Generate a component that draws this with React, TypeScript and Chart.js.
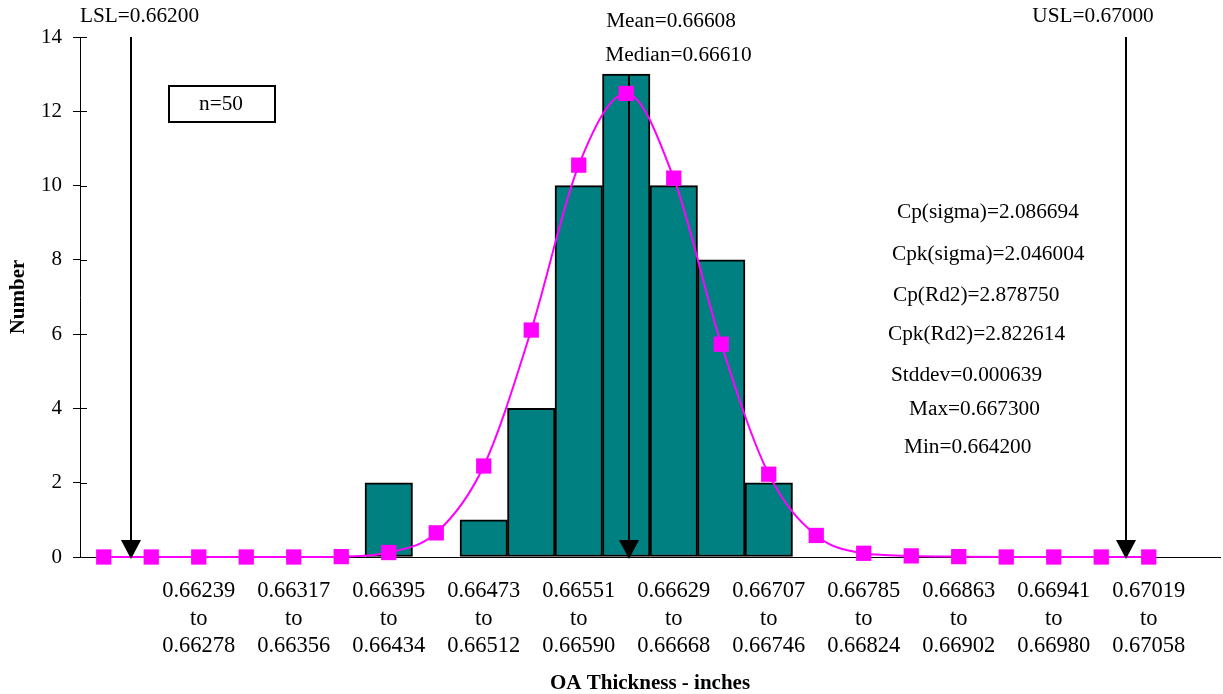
import { useEffect, useRef } from 'react';
import { Chart, registerables } from 'chart.js';

Chart.register(...registerables);

const FONT = "'Liberation Serif', 'Times New Roman', serif";

// Bin ranges (inches); the last entry is an empty spacer slot
const binStarts = [
  '0.66161', '0.66200', '0.66239', '0.66278', '0.66317', '0.66356', '0.66395', '0.66434',
  '0.66473', '0.66512', '0.66551', '0.66590', '0.66629', '0.66668', '0.66707', '0.66746',
  '0.66785', '0.66824', '0.66863', '0.66902', '0.66941', '0.66980', '0.67019', '',
];
const binEnds = [
  '0.66200', '0.66239', '0.66278', '0.66317', '0.66356', '0.66395', '0.66434', '0.66473',
  '0.66512', '0.66551', '0.66590', '0.66629', '0.66668', '0.66707', '0.66746', '0.66785',
  '0.66824', '0.66863', '0.66902', '0.66941', '0.66980', '0.67019', '0.67058', '',
];
// Which bins carry a visible tick label
const labeledBins = [
  false, false, true, false, true, false, true, false, true, false, true, false,
  true, false, true, false, true, false, true, false, true, false, true, false,
];

// Histogram counts (n = 50)
const counts = [
  null, null, null, null, null, null, 2, null, 1, 4, 10, 13,
  10, 8, 2, null, null, null, null, null, null, null, null, null,
];

// Fitted normal curve values
const normalFit = [
  0, 0, 0, 0, 0, 0.01, 0.12, 0.65, 2.45, 6.11, 10.55, 12.48,
  10.2, 5.73, 2.23, 0.58, 0.1, 0.03, 0.01, 0, 0, 0, 0, null,
];

const yTicks = { min: 0, max: 14, step: 2 };

// Spec / statistic markers: label, position in bin-index units, top of arrow (count units)
const markerNames = ['LSL', 'Mean', 'USL'];
const markerIndex = [0.567, 11.06, 21.52];
const markerTop = [14, 13, 14];

const topLabels = ['LSL=0.66200', 'Mean=0.66608', 'Median=0.66610', 'USL=0.67000'];
const statLabels = [
  'Cp(sigma)=2.086694',
  'Cpk(sigma)=2.046004',
  'Cp(Rd2)=2.878750',
  'Cpk(Rd2)=2.822614',
  'Stddev=0.000639',
  'Max=0.667300',
  'Min=0.664200',
];
const sampleLabel = 'n=50';

const categories = binStarts.map((s, i) => (s ? `${s} to ${binEnds[i]}` : ''));

// Layout for annotation text (pixels)
const topLabelPos = [
  [139.5, 16],
  [671, 21],
  [678.5, 55.5],
  [1093, 16],
];
const statLabelPos = [
  [897, 212],
  [892, 254],
  [893, 295],
  [888, 334],
  [891, 375],
  [909, 409],
  [904, 447],
];

const annotationPlugin = {
  id: 'spcAnnotations',
  afterDatasetDraw(chart: any, args: any) {
    if (args.index !== 0) return;
    const { ctx } = chart;
    const x = chart.scales.x;
    const y = chart.scales.y;
    ctx.save();
    ctx.strokeStyle = '#000';
    ctx.lineWidth = 2;
    markerNames.forEach((_, i) => {
      const px = Math.round(x.getPixelForValue(markerIndex[i]));
      ctx.beginPath();
      ctx.moveTo(px, y.getPixelForValue(markerTop[i]));
      ctx.lineTo(px, y.getPixelForValue(0) - 10);
      ctx.stroke();
    });
    ctx.restore();
  },
  afterDatasetsDraw(chart: any) {
    const { ctx } = chart;
    const x = chart.scales.x;
    const y = chart.scales.y;
    const base = y.getPixelForValue(0);
    ctx.save();
    // inner half of y tick marks
    ctx.strokeStyle = '#000';
    ctx.lineWidth = 1;
    for (let v = yTicks.min; v <= yTicks.max; v += yTicks.step) {
      const py = Math.round(y.getPixelForValue(v)) + 0.5;
      ctx.beginPath();
      ctx.moveTo(chart.chartArea.left, py);
      ctx.lineTo(chart.chartArea.left + 7, py);
      ctx.stroke();
    }
    // arrow heads
    ctx.fillStyle = '#000';
    markerNames.forEach((_, i) => {
      const px = Math.round(x.getPixelForValue(markerIndex[i]));
      ctx.beginPath();
      ctx.moveTo(px - 10, base - 17);
      ctx.lineTo(px + 10, base - 17);
      ctx.lineTo(px, base + 2);
      ctx.closePath();
      ctx.fill();
    });
    // texts
    ctx.font = `21.3px ${FONT}`;
    ctx.fillStyle = '#000';
    ctx.textBaseline = 'middle';
    ctx.textAlign = 'center';
    topLabels.forEach((t, i) => ctx.fillText(t, topLabelPos[i][0], topLabelPos[i][1]));
    ctx.textAlign = 'left';
    statLabels.forEach((t, i) => ctx.fillText(t, statLabelPos[i][0], statLabelPos[i][1]));
    // sample size box
    ctx.lineWidth = 2;
    ctx.strokeRect(169, 86, 106, 36);
    ctx.textAlign = 'center';
    ctx.fillText(sampleLabel, 221, 104);
    ctx.restore();
  },
};

export default function App() {
  const canvasRef = useRef<HTMLCanvasElement | null>(null);

  useEffect(() => {
    const canvas = canvasRef.current;
    if (!canvas) return;
    const chart = new Chart(canvas, {
      type: 'bar',
      data: {
        labels: categories,
        datasets: [
          {
            type: 'bar',
            label: 'Count',
            data: counts as any,
            backgroundColor: '#008080',
            borderColor: '#000000',
            borderWidth: 2,
            borderSkipped: false,
            barPercentage: 1,
            categoryPercentage: 1,
            order: 2,
          },
          {
            type: 'line',
            label: 'Normal',
            data: normalFit as any,
            borderColor: '#FF00FF',
            backgroundColor: '#FF00FF',
            borderWidth: 2,
            pointStyle: 'rect',
            pointRadius: 10.8,
            pointBorderWidth: 0,
            pointBackgroundColor: '#FF00FF',
            cubicInterpolationMode: 'monotone',
            fill: false,
            clip: false,
            order: 1,
          },
        ],
      },
      options: {
        responsive: false,
        animation: false,
        layout: { autoPadding: false, padding: { top: 37, right: 3, left: 0, bottom: 0 } },
        plugins: {
          legend: { display: false },
          tooltip: { enabled: false },
        },
        scales: {
          x: {
            type: 'category',
            offset: true,
            grid: { display: false, drawTicks: false },
            border: { display: true, color: '#000', width: 1 },
            ticks: {
              autoSkip: false,
              maxRotation: 0,
              minRotation: 0,
              padding: 20,
              color: '#000',
              font: { family: FONT, size: 22.5, lineHeight: 1.235 },
              callback: (_v: any, i: number) =>
                labeledBins[i] ? [binStarts[i], 'to', binEnds[i]] : '',
            },
            title: {
              display: true,
              text: 'OA Thickness - inches',
              color: '#000',
              font: { family: FONT, size: 21, weight: 'bold', lineHeight: 1 },
              padding: { top: 0, bottom: 0 },
            },
            afterFit: (scale: any) => {
              scale.height = 137;
              scale.paddingLeft = 0;
              scale.paddingRight = 0;
            },
          },
          y: {
            min: yTicks.min,
            max: yTicks.max,
            grid: {
              display: true,
              drawOnChartArea: false,
              drawTicks: true,
              tickLength: 7,
              color: '#000',
              lineWidth: 1,
            },
            border: { display: true, color: '#000', width: 1 },
            ticks: {
              stepSize: yTicks.step,
              padding: 11,
              color: '#000',
              font: { family: FONT, size: 21 },
            },
            title: {
              display: true,
              text: 'Number',
              color: '#000',
              font: { family: FONT, size: 21, weight: 'bold', lineHeight: 1.2 },
              padding: { top: 6, bottom: 0 },
            },
            afterFit: (scale: any) => {
              scale.width = 80;
              scale.paddingTop = 0;
              scale.paddingBottom = 0;
            },
          },
        },
      },
      plugins: [annotationPlugin],
    });
    return () => chart.destroy();
  }, []);

  return (
    <div style={{ position: 'absolute', left: 0, top: 0, width: 1223, height: 694, background: '#fff' }}>
      <canvas ref={canvasRef} width={1223} height={694} />
    </div>
  );
}
